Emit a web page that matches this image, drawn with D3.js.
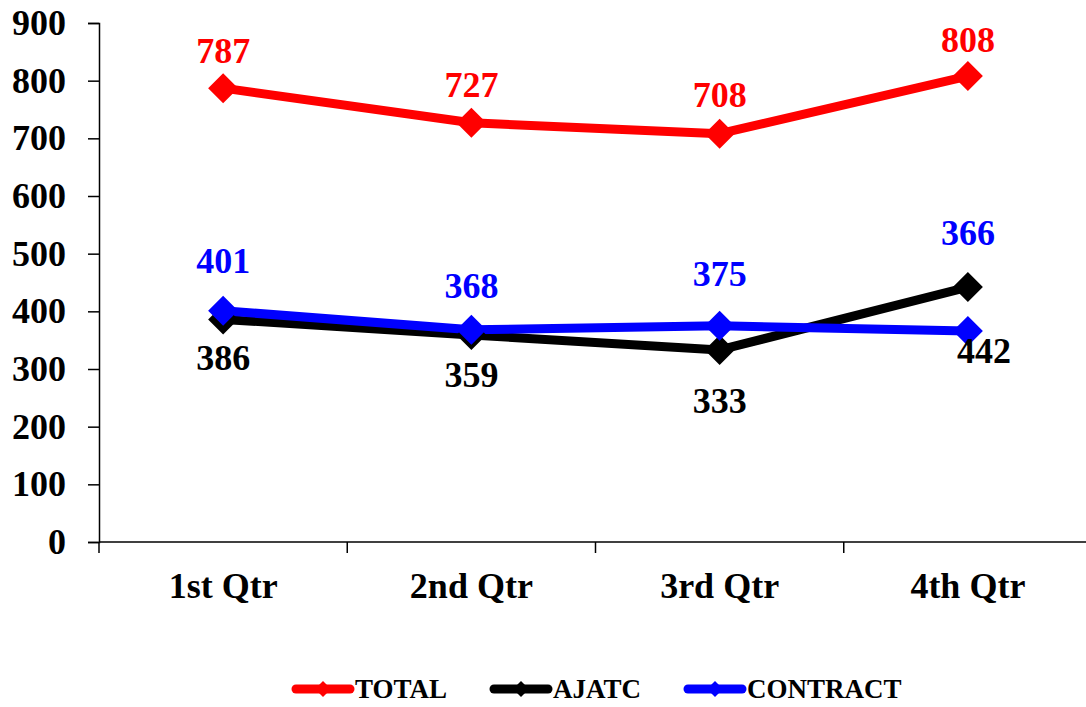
<!DOCTYPE html>
<html>
<head>
<meta charset="utf-8">
<script src="https://cdn.jsdelivr.net/npm/d3@7"></script>
<style>
  body { margin: 0; background: #fff; }
  svg { display: block; }
</style>
</head>
<body>
<script>
// quarters and the three series
const quarters = ["1st Qtr", "2nd Qtr", "3rd Qtr", "4th Qtr"];
const total = [787, 727, 708, 808];
const ajatc = [386, 359, 333, 442];
const contract = [401, 368, 375, 366];
const yTicks = [0, 100, 200, 300, 400, 500, 600, 700, 800, 900];

// label nudges (px from the point), the labels were hand placed in the original
const totalLabelDy = [-25, -26, -27, -24];
const ajatcLabelDy = [51, 52, 63, 76];
const ajatcLabelDx = [0, 0, 0, 16];
const contractLabelDy = [-38, -32, -40, -86];

const series = [
  { name: "TOTAL", values: total, color: "#ff0000", dy: totalLabelDy, dx: [0, 0, 0, 0] },
  { name: "AJATC", values: ajatc, color: "#000000", dy: ajatcLabelDy, dx: ajatcLabelDx },
  { name: "CONTRACT", values: contract, color: "#0000ff", dy: contractLabelDy, dx: [0, 0, 0, 0] }
];

const width = 1086, height = 707;
const font = "'Liberation Serif', 'Times New Roman', serif";

const svg = d3.select("body").append("svg")
  .attr("width", width)
  .attr("height", height);

const x = d3.scaleBand().domain(quarters).range([99, 1092]);
const y = d3.scaleLinear().domain([0, 900]).range([542, 23]);

// y axis
const yAxis = svg.append("g")
  .attr("transform", "translate(99,0)")
  .call(d3.axisLeft(y).tickValues(yTicks).tickSize(11).tickPadding(22));
yAxis.select(".domain").attr("stroke", "#000").attr("stroke-width", 1.5);
yAxis.selectAll(".tick line").attr("stroke", "#000").attr("stroke-width", 1.5);
yAxis.selectAll("text")
  .style("font-family", font)
  .style("font-weight", "bold")
  .style("font-size", "36px")
  .attr("fill", "#000");

// x axis, ticks on the band edges
const xAxis = svg.append("g").attr("transform", "translate(0,542)");
xAxis.append("line")
  .attr("x1", 99).attr("x2", width)
  .attr("stroke", "#000").attr("stroke-width", 1.5);
xAxis.selectAll(".xt")
  .data(quarters)
  .enter().append("line")
  .attr("class", "xt")
  .attr("x1", d => x(d)).attr("x2", d => x(d))
  .attr("y1", 0).attr("y2", 11)
  .attr("stroke", "#000").attr("stroke-width", 1.5);
xAxis.selectAll(".xl")
  .data(quarters)
  .enter().append("text")
  .attr("class", "xl")
  .attr("x", d => x(d) + x.bandwidth() / 2)
  .attr("y", 56)
  .attr("text-anchor", "middle")
  .style("font-family", font)
  .style("font-weight", "bold")
  .style("font-size", "36px")
  .text(d => d);

const cx = i => x(quarters[i]) + x.bandwidth() / 2;

const line = d3.line()
  .x((d, i) => cx(i))
  .y(d => y(d));

const diamond = (r) => `M0,${-r}L${r},0L0,${r}L${-r},0Z`;

// lines
svg.selectAll(".series")
  .data(series)
  .enter().append("path")
  .attr("class", "series")
  .attr("d", d => line(d.values))
  .attr("fill", "none")
  .attr("stroke", d => d.color)
  .attr("stroke-width", 9)
  .attr("stroke-linejoin", "round");

// markers and labels
series.forEach(s => {
  svg.selectAll(null)
    .data(s.values)
    .enter().append("path")
    .attr("d", diamond(15))
    .attr("transform", (d, i) => `translate(${cx(i)},${y(d)})`)
    .attr("fill", s.color);
});

series.forEach(s => {
  svg.selectAll(null)
    .data(s.values)
    .enter().append("text")
    .attr("x", (d, i) => cx(i) + s.dx[i])
    .attr("y", (d, i) => y(d) + s.dy[i])
    .attr("text-anchor", "middle")
    .attr("fill", s.color)
    .style("font-family", font)
    .style("font-weight", "bold")
    .style("font-size", "36px")
    .text(d => d);
});

// legend
const legendX = [292, 490, 684];
const legend = svg.append("g").attr("transform", "translate(0,689)");
const items = legend.selectAll("g")
  .data(series)
  .enter().append("g")
  .attr("transform", (d, i) => `translate(${legendX[i]},0)`);
items.append("line")
  .attr("x1", 4).attr("x2", 58)
  .attr("stroke", d => d.color)
  .attr("stroke-width", 9)
  .attr("stroke-linecap", "round");
items.append("path")
  .attr("d", diamond(8))
  .attr("transform", "translate(31,0)")
  .attr("fill", d => d.color);
items.append("text")
  .attr("x", 63)
  .attr("y", 9)
  .style("font-family", font)
  .style("font-weight", "bold")
  .style("font-size", "27px")
  .attr("fill", "#000")
  .text(d => d.name);
</script>
</body>
</html>
